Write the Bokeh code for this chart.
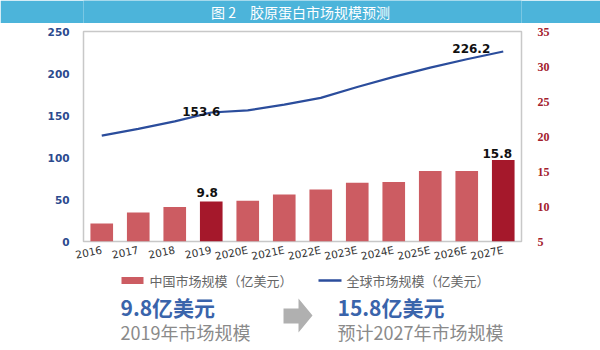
from bokeh.plotting import figure
from bokeh.models import Range1d, LinearAxis, ColumnDataSource, FixedTicker
from bokeh.layouts import column
from bokeh.embed import file_html
from bokeh.resources import INLINE
from bokeh.core.properties import value

# ---------------- data ----------------
years = ["2016", "2017", "2018", "2019", "2020E", "2021E", "2022E",
         "2023E", "2024E", "2025E", "2026E", "2027E"]
china = [6.6, 8.2, 9.0, 9.8, 9.9, 10.8, 11.5, 12.5, 12.6, 14.2, 14.2, 15.8]
world = [126, 134, 143, 153.6, 156, 163, 171, 184, 196, 207, 217, 226.2]
highlight = ["2019", "2027E"]
left_ticks = [0, 50, 100, 150, 200, 250]
right_ticks = [5, 10, 15, 20, 25, 30, 35]
title_text = "图 2　胶原蛋白市场规模预测"
legend_china = "中国市场规模（亿美元）"
legend_world = "全球市场规模（亿美元）"

CJK = value("Noto Sans CJK SC")
BAR = "#cc5c62"
BAR_HI = "#a5182b"
LINE = "#2b4d9c"
BL, BR = 83, 79   # frame borders shared by all panels


def strip(h, y0, y1, bg):
    f = figure(width=600, height=h, x_range=Range1d(BL, 600 - BR),
               y_range=Range1d(y0, y1), toolbar_location=None,
               output_backend="svg", min_border_left=BL, min_border_right=BR,
               min_border_top=0, min_border_bottom=0,
               x_axis_type=None, y_axis_type=None)
    f.grid.visible = False
    f.outline_line_color = None
    f.background_fill_color = bg
    f.border_fill_color = bg
    return f


# ---------------- title band ----------------
t = strip(23, 23, 0, "#4cb4da")
t.text(x=[300], y=[11.5], text=[title_text], text_align="center",
       text_baseline="middle", text_color="white", text_font=CJK,
       text_font_size="14px")

# ---------------- main chart ----------------
colors = [BAR_HI if y in highlight else BAR for y in years]
src = ColumnDataSource(dict(year=years, china=china, world=world, color=colors))

p = figure(width=600, height=247, x_range=years, y_range=Range1d(0, 250),
           toolbar_location=None, output_backend="svg",
           min_border_left=BL, min_border_right=BR, min_border_top=8,
           min_border_bottom=28)
p.extra_y_ranges = {"cn": Range1d(4, 34.36), "r": Range1d(5, 35)}
p.grid.visible = False
p.outline_line_color = "#c8c8c8"
p.outline_line_width = 1.5
p.background_fill_color = "white"
p.border_fill_color = "white"

p.vbar(x="year", top="china", bottom=4, width=0.62, y_range_name="cn",
       fill_color="color", line_color=None, source=src)
p.line(x="year", y="world", line_color=LINE, line_width=2.2, source=src)

ya = p.yaxis[0]
ya.ticker = FixedTicker(ticks=left_ticks)
ya.axis_line_color = None
ya.major_tick_line_color = None
ya.minor_tick_line_color = None
ya.major_label_text_font = "DejaVu Sans"
ya.major_label_text_font_style = "bold"
ya.major_label_text_font_size = "10.5px"
ya.major_label_text_color = "#2c4a8e"
ya.major_label_standoff = 8

ra = LinearAxis(y_range_name="r", ticker=FixedTicker(ticks=right_ticks))
ra.axis_line_color = None
ra.major_tick_line_color = None
ra.minor_tick_line_color = None
ra.major_label_text_font = "Liberation Serif"
ra.major_label_text_font_style = "bold"
ra.major_label_text_font_size = "12px"
ra.major_label_text_color = "#a3202c"
ra.major_label_standoff = 10
p.add_layout(ra, "right")

xa = p.xaxis[0]
xa.axis_line_color = None
xa.major_tick_line_color = None
xa.minor_tick_line_color = None
xa.major_label_orientation = 0.2
xa.major_label_text_font = "DejaVu Sans"
xa.major_label_text_font_size = "10.5px"
xa.major_label_text_color = "#333333"
xa.major_label_standoff = 2

i19 = years.index("2019")
i27 = years.index("2027E")
lab_font = value("DejaVu Sans")
p.text(x=[years[i19]], y=[world[i19]], text=[f"{world[i19]}"], x_offset=-10,
       y_offset=-1, text_align="center", text_baseline="alphabetic",
       text_font=lab_font, text_font_style="bold", text_font_size="12px",
       text_color="#111111")
p.text(x=[years[i27]], y=[world[i27]], text=[f"{world[i27]}"], x_offset=-13,
       y_offset=-3, text_align="right", text_baseline="alphabetic",
       text_font=lab_font, text_font_style="bold", text_font_size="12px",
       text_color="#111111")
p.text(x=[years[i19]], y=[china[i19]], text=[f"{china[i19]}"], x_offset=-4,
       y_offset=-9, text_align="center", text_baseline="alphabetic",
       text_font=lab_font, text_font_style="bold", text_font_size="12px",
       text_color="#111111", y_range_name="cn")
p.text(x=[years[i27]], y=[china[i27]], text=[f"{china[i27]}"], x_offset=-6,
       y_offset=-6, text_align="center", text_baseline="alphabetic",
       text_font=lab_font, text_font_style="bold", text_font_size="12px",
       text_color="#111111", y_range_name="cn")

# ---------------- legend + summary ----------------
b = strip(80, 350, 270, "white")
LEG_Y = 280
b.quad(left=[121], right=[143], top=[LEG_Y - 3.5], bottom=[LEG_Y + 3.5],
       fill_color=BAR, line_color=None)
b.text(x=[149], y=[LEG_Y], text=[legend_china], text_align="left",
       text_baseline="middle", text_font=CJK, text_font_size="13px",
       text_color="#666666")
b.segment(x0=[318], y0=[LEG_Y], x1=[341], y1=[LEG_Y], line_color=LINE,
          line_width=2.5)
b.text(x=[346], y=[LEG_Y], text=[legend_world], text_align="left",
       text_baseline="middle", text_font=CJK, text_font_size="13px",
       text_color="#666666")

BLUE_T = "#3a64ab"
GRAY_T = "#8a8a8a"
b.text(x=[120, 337], y=[306, 306],
       text=[f"{china[i19]}亿美元", f"{china[i27]}亿美元"], text_align="left",
       text_baseline="middle", text_font=CJK, text_font_style="bold",
       text_font_size="21px", text_color=BLUE_T)
b.text(x=[120, 337], y=[331, 331],
       text=[f"{years[i19]}年市场规模", f"预计{years[i27].rstrip('E')}年市场规模"],
       text_align="left", text_baseline="middle", text_font=CJK,
       text_font_size="18px", text_color=GRAY_T)
b.patch(x=[283, 298, 298, 312, 298, 298, 283],
        y=[308, 308, 298, 315, 332, 323, 323],
        fill_color="#b0b0b0", line_color=None)

layout = column(t, p, b, spacing=0)
open("out.html", "w").write(file_html(layout, INLINE))
